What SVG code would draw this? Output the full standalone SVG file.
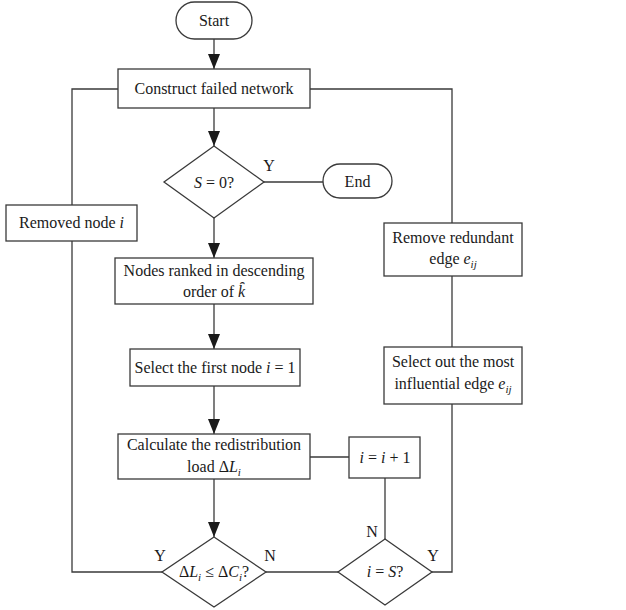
<svg xmlns="http://www.w3.org/2000/svg" width="626" height="610" viewBox="0 0 626 610">
<defs>
<marker id="arr" markerUnits="userSpaceOnUse" markerWidth="15" markerHeight="12" refX="15" refY="6" orient="auto" viewBox="0 0 15 12">
<path d="M0,0 L15,6 L0,12 z" fill="#1a1a1a"/>
</marker>
<style>
.s{fill:#fff;stroke:#3a3a3a;stroke-width:1.3}
.c{fill:none;stroke:#3a3a3a;stroke-width:1.3}
.a{fill:none;stroke:#3a3a3a;stroke-width:1.3;marker-end:url(#arr)}
text{font-family:"Liberation Serif","Times New Roman",serif;font-size:16px;fill:#1a1a1a;text-anchor:middle}
.i{font-style:italic}
.sb{font-style:italic;font-size:11px}
</style>
</defs>
<rect width="626" height="610" fill="#fff"/>
<g id="connectors">
<path class="a" d="M214,39 V69"/>
<path class="a" d="M214,108 V146"/>
<path class="a" d="M214,218 V258"/>
<path class="a" d="M214,304 V349"/>
<path class="a" d="M214,386 V434"/>
<path class="a" d="M214,479 V537"/>
<path class="c" d="M264,182 H323"/>
<path class="c" d="M118,89 H72 V205"/>
<path class="c" d="M72,241 V572 H162"/>
<path class="c" d="M310,89 H452 V223"/>
<path class="c" d="M452,276 V347"/>
<path class="c" d="M452,404 V572 H432"/>
<path class="c" d="M266,572 H338"/>
<path class="c" d="M385,539 V478"/>
<path class="c" d="M349,457 H310"/>
</g>
<g id="start"><rect class="s" x="176" y="2" width="76" height="37" rx="18.5"/><text x="214" y="26">Start</text></g>
<g id="construct"><rect class="s" x="118" y="69" width="192" height="39"/><text x="214" y="94">Construct failed network</text></g>
<g id="s0"><polygon class="s" points="214,146 264,182 214,218 164,182"/><text x="214" y="188"><tspan class="i">S</tspan> = 0?</text><text x="269" y="171">Y</text></g>
<g id="end"><rect class="s" x="323" y="164" width="69" height="34" rx="17"/><text x="357.5" y="187">End</text></g>
<g id="removed"><rect class="s" x="6" y="205" width="131" height="36"/><text x="71.5" y="228">Removed node <tspan class="i">i</tspan></text></g>
<g id="ranked"><rect class="s" x="115" y="258" width="198" height="46"/><text x="214" y="276">Nodes ranked in descending</text><text x="214" y="297">order of <tspan class="i">k&#x0311;</tspan></text></g>
<g id="first"><rect class="s" x="130" y="349" width="170" height="37"/><text x="215" y="373">Select the first node <tspan class="i">i</tspan> = 1</text></g>
<g id="calc"><rect class="s" x="118" y="434" width="192" height="45"/><text x="214" y="450">Calculate the redistribution</text><text x="214" y="472">load Δ<tspan class="i">L</tspan><tspan class="sb" dy="4">i</tspan></text></g>
<g id="inc"><rect class="s" x="349" y="437" width="71" height="41"/><text x="385" y="463"><tspan class="i">i</tspan> = <tspan class="i">i</tspan> + 1</text></g>
<g id="cmp"><polygon class="s" points="214,537 266,572 214,607 162,572"/><text x="214" y="577">Δ<tspan class="i">L</tspan><tspan class="sb" dy="4">i</tspan><tspan dy="-4"> ≤ Δ</tspan><tspan class="i">C</tspan><tspan class="sb" dy="4">i</tspan><tspan dy="-4">?</tspan></text><text x="160" y="561">Y</text><text x="270" y="561">N</text></g>
<g id="iS"><polygon class="s" points="385,539 432,572 385,605 338,572"/><text x="385" y="577"><tspan class="i">i</tspan> = <tspan class="i">S</tspan>?</text><text x="372" y="537">N</text><text x="433" y="561">Y</text></g>
<g id="redundant"><rect class="s" x="384" y="223" width="138" height="53"/><text x="453" y="243">Remove redundant</text><text x="453" y="264">edge <tspan class="i">e</tspan><tspan class="sb" dy="4">ij</tspan></text></g>
<g id="influential"><rect class="s" x="384" y="347" width="138" height="57"/><text x="453" y="367">Select out the most</text><text x="453" y="389">influential edge <tspan class="i">e</tspan><tspan class="sb" dy="4">ij</tspan></text></g>
</svg>
